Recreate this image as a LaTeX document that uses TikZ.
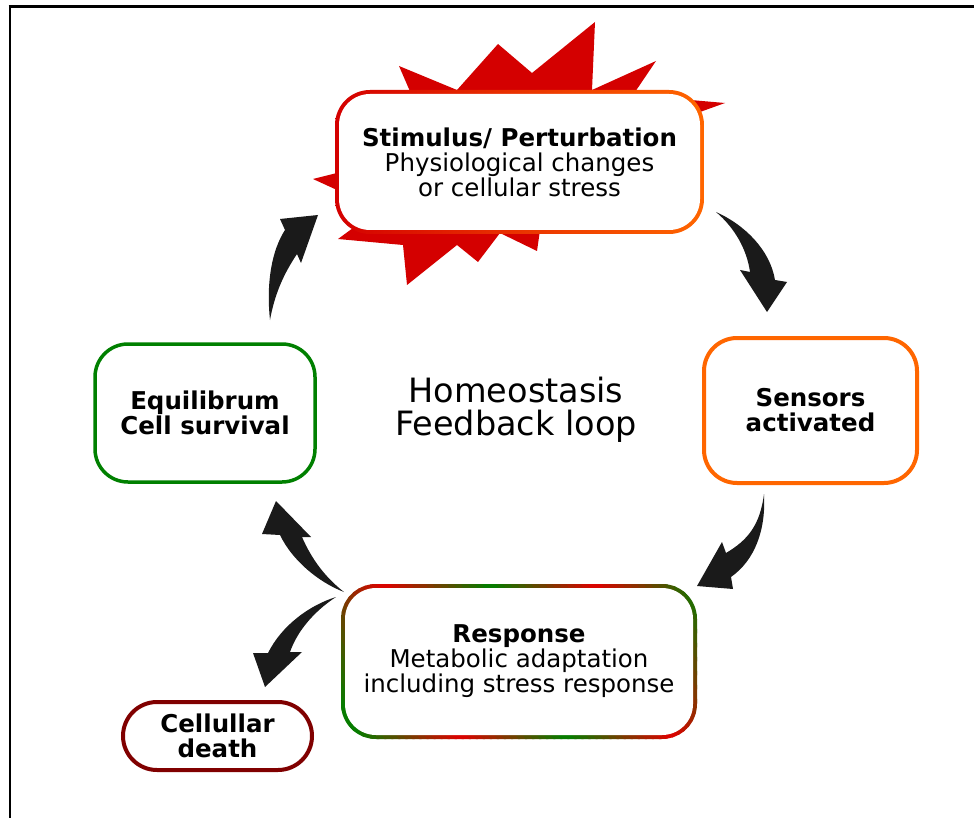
\documentclass[tikz,border=0pt]{standalone}
\usepackage{fontspec}
\setmainfont{DejaVu Sans}
\definecolor{burst}{HTML}{D40000}
\definecolor{bred}{HTML}{D40000}
\definecolor{borange}{HTML}{FF6600}
\definecolor{bgreen}{HTML}{008000}
\definecolor{dred}{HTML}{800000}
\definecolor{rred}{HTML}{E00000}
\definecolor{rgreen}{HTML}{008000}
\definecolor{arrowblack}{HTML}{1A1A1A}
\begin{document}
\begin{tikzpicture}[x=1pt,y=-1pt,
  boxtxt/.style={align=center,font=\fontsize{24.5}{25}\selectfont,inner sep=0pt},
  boldtxt/.style={align=center,font=\fontsize{24.5}{25}\selectfont\bfseries,inner sep=0pt},
  plainbox/.style={boldtxt,draw,line width=4pt,fill=white,rounded corners=33pt},
  blockarrow/.style={fill=arrowblack,draw=none},
]
\useasboundingbox (0,0) rectangle (974,818);
\fill[white] (0,0) rectangle (974,818);
% frame
\draw[line width=3pt] (8.5,7) -- (974,7);
\draw[line width=2pt] (10,7) -- (10,818);

% starburst behind the stimulus box
\fill[burst] (595,22) -- (592,90) -- (656,61) -- (633,95) -- (725,103) -- (700,112)
  -- (700,200) -- (540,230) -- (537,251) -- (500,233) -- (478,262) -- (457,245)
  -- (407,285) -- (403,245) -- (338,239) -- (353,228) -- (337,190) -- (313,179)
  -- (337,173) -- (412,96) -- (399,66) -- (457,90) -- (498,44) -- (532,73) -- cycle;

% stimulus box ring (red to orange)
\shade[left color=bred,right color=borange,rounded corners=35pt] (335,90) rectangle (704,234);
\fill[white,rounded corners=31pt] (339,94) rectangle (700,230);
\node[inner sep=0pt,minimum width=365,minimum height=140] (stim) at (519.5,162) {};
\node[boxtxt] (stimtxt) at (stim.center) {\textbf{Stimulus/ Perturbation}\\Physiological changes\\or cellular stress};

% response box ring (striped red/green)
\begin{scope}
  \clip[rounded corners=35pt] (341,584) rectangle (697,739);
  \foreach \i in {0,...,66} {
    \pgfmathsetmacro{\f}{-0.27+0.02*\i}
    \pgfmathsetmacro{\p}{mod(\f+1.1,0.6)/0.6}
    \pgfmathsetmacro{\r}{100*abs(1-2*\p)}
    \fill[rred!\r!rgreen] ({342+352*\f},578) -- ({344+352*(\f+0.02)},578)
      -- ({344+352*(\f+0.02)+84},745) -- ({342+352*\f+84},745) -- cycle;
  }
\end{scope}
\fill[white,rounded corners=31pt] (345,588) rectangle (693,735);
\node[inner sep=0pt,minimum width=352,minimum height=151] (resp) at (519,661.5) {};
\node[boxtxt] (resptxt) at (resp.center) {\textbf{Response}\\Metabolic adaptation\\including stress response};

% plain boxes
\node[plainbox,draw=borange,minimum width=213,minimum height=145] (sens) at (810.5,410.5) {Sensors\\activated};
\node[plainbox,draw=bgreen,line width=3.5pt,minimum width=220,minimum height=138] (equi) at (205,413) {Equilibrum\\Cell survival};
\node[plainbox,draw=dred,rounded corners=34pt,minimum width=189,minimum height=68] (death) at (217.5,736) {Cellullar\\death};

% centre label
\node[align=center,inner sep=0pt,font=\fontsize{33.5}{33}\selectfont] (loop) at (516,410) {Homeostasis\\Feedback loop};

% curved block arrows
\fill[blockarrow] (270,320) .. controls (266,282) and (272,250) .. (285,230) -- (280,219)
  -- (318,215) -- (301,263) -- (297,254) .. controls (285,272) and (275,292) .. (270,320) -- cycle;
\fill[blockarrow] (716,212) .. controls (745,225) and (770,250) .. (775,280) -- (787,282)
  -- (767,312) -- (740,270) -- (750,272) .. controls (747,250) and (735,228) .. (716,212) -- cycle;
\fill[blockarrow] (764,494) .. controls (760,525) and (748,540) .. (726,553) -- (722,542)
  -- (697,586) -- (733,589) -- (731,577) .. controls (755,560) and (766,530) .. (764,494) -- cycle;
\fill[blockarrow] (344,592) .. controls (318,582) and (292,560) .. (280,535) -- (262,534)
  -- (276,501) -- (311,537) -- (302,537) .. controls (312,560) and (326,578) .. (344,592) -- cycle;
\fill[blockarrow] (336,597) .. controls (310,605) and (282,625) .. (268,653) -- (253,653)
  -- (265,687) -- (302,652) -- (290,652) .. controls (297,632) and (313,612) .. (336,597) -- cycle;
\end{tikzpicture}
\end{document}
